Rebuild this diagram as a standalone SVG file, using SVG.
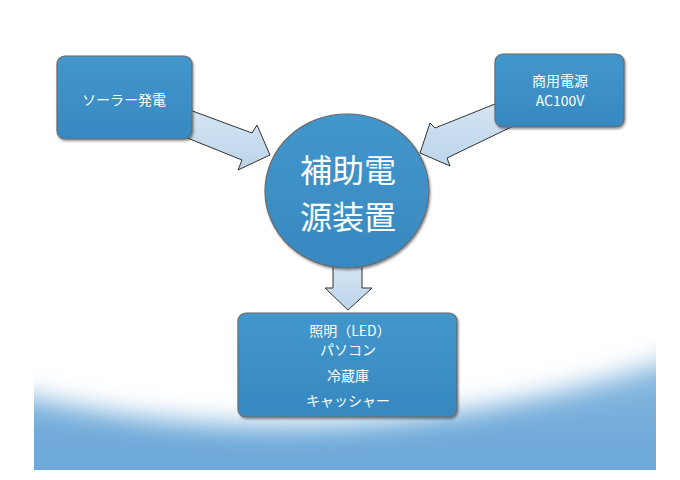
<svg xmlns="http://www.w3.org/2000/svg" width="680" height="480" viewBox="0 0 680 480">
<defs>
<clipPath id="bgClip"><rect x="34" y="300" width="622" height="170"/></clipPath>
<filter id="soft" x="-10%" y="-30%" width="120%" height="160%">
<feGaussianBlur stdDeviation="13"/>
</filter>
<linearGradient id="waveFill" x1="0" y1="0" x2="0" y2="1">
<stop offset="0" stop-color="#8fbde3"/>
<stop offset="0.5" stop-color="#6ea9d8"/>
<stop offset="1" stop-color="#74acd9"/>
</linearGradient>
<linearGradient id="arrowFill" x1="0" y1="0" x2="0" y2="1">
<stop offset="0" stop-color="#d9e8f5"/>
<stop offset="1" stop-color="#bcd4ea"/>
</linearGradient>
<linearGradient id="nodeFill" x1="0" y1="0" x2="0" y2="1">
<stop offset="0" stop-color="#4297cc"/>
<stop offset="1" stop-color="#3788c0"/>
</linearGradient>
<filter id="shadow" x="-10%" y="-10%" width="120%" height="125%">
<feDropShadow dx="1" dy="1.5" stdDeviation="1" flood-color="#000" flood-opacity="0.45"/>
</filter>
</defs>
<style>
.node{fill:url(#nodeFill);stroke:#6b6b6b;stroke-width:1.2;filter:url(#shadow)}
.arrow{fill:url(#arrowFill);stroke:#333;stroke-width:1}
.t{font-family:"Noto Sans CJK JP","Noto Sans",sans-serif;fill:#fff;text-anchor:middle}
.s{font-size:14px}
.big{font-size:32px}
</style>
<rect width="680" height="480" fill="#fff"/>
<g id="background" clip-path="url(#bgClip)">
<path d="M0,390 Q340,478 700,350 L700,540 L0,540 Z" fill="url(#waveFill)" filter="url(#soft)"/>
</g>
<g id="connectors">
<polygon class="arrow" points="160,99 252,133 257,125 270,155 238,170 242,160 160,127"/>
<polygon class="arrow" points="530,90 435,128 430,123 420,153 450,166 447,158 530,118"/>
<polygon class="arrow" points="333,255 362,255 362,288 372,288 348,310 325,288 333,288"/>
</g>
<g id="solar">
<rect class="node" x="57" y="56" width="135" height="83" rx="8"/>
<text class="t s" x="124" y="105">ソーラー発電</text>
</g>
<g id="grid">
<rect class="node" x="495" y="54" width="129" height="73" rx="8"/>
<text class="t s"><tspan x="560" y="86">商用電源</tspan><tspan x="560" y="106">AC100V</tspan></text>
</g>
<g id="aux">
<ellipse class="node" cx="347" cy="191" rx="82" ry="77"/>
<text class="t big"><tspan x="348" y="182">補助電</tspan><tspan x="348" y="229">源装置</tspan></text>
</g>
<g id="loads">
<rect class="node" x="238" y="313" width="219" height="104" rx="8"/>
<text class="t s"><tspan x="350" y="336">照明（LED）</tspan><tspan x="348" y="355">パソコン</tspan><tspan x="348" y="381">冷蔵庫</tspan><tspan x="348" y="406">キャッシャー</tspan></text>
</g>
</svg>
